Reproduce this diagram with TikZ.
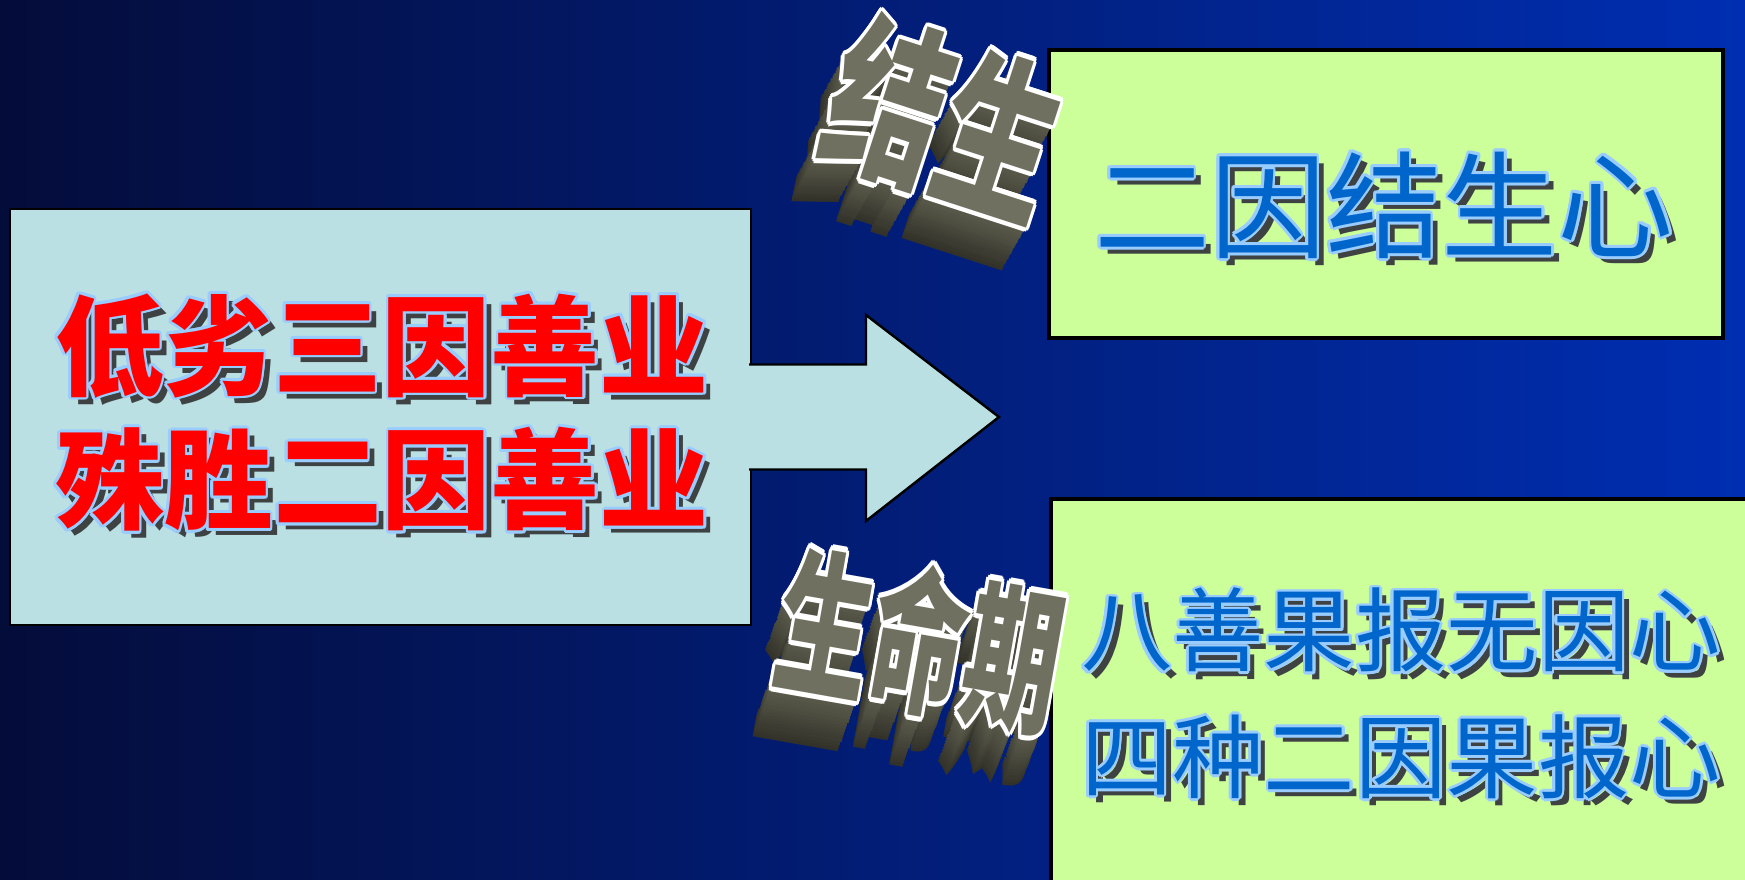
\documentclass[tikz,border=0pt]{standalone}
\usepackage{fontspec}
\newfontfamily\cjk{Noto Sans CJK SC}
\usetikzlibrary{calc}

\definecolor{bgleft}{RGB}{4,12,58}
\definecolor{bgmid}{RGB}{0,30,140}
\definecolor{bgright}{RGB}{0,46,178}
\definecolor{boxcyan}{RGB}{186,224,227}
\definecolor{boxgreen}{RGB}{204,255,153}
\definecolor{inkred}{RGB}{255,0,0}
\definecolor{inkblue}{RGB}{0,102,204}
\definecolor{rimblue}{RGB}{153,204,255}
\definecolor{shadowgray}{RGB}{62,66,66}
\definecolor{stoneface}{RGB}{112,112,96}
\definecolor{stoneside}{RGB}{96,96,80}

\tikzset{
  panel/.style={draw=black, line width=0.7pt, fill=#1, inner sep=0pt},
  redword/.style={font=\cjk\bfseries\fontsize{31}{38}\selectfont, text=inkred, align=center, inner sep=0pt},
  blueword/.style={font=\cjk\fontsize{33}{40}\selectfont, text=inkblue, align=center, inner sep=0pt},
  smallblue/.style={font=\cjk\fontsize{26}{36}\selectfont, text=inkblue, align=center, inner sep=0pt},
  stonefont/.style={font=\cjk\bfseries\fontsize{#1}{#1}\selectfont, inner sep=0pt},
}

% text with a pale rim and a dark drop shadow
\newcommand{\glowtext}[4]{% style, name, position, text
  \node[#1, text=shadowgray] at ($(#3)+(2pt,-2pt)$) {#4};
  \foreach \ang in {0,30,...,330}
    \node[#1, text=rimblue] at ($(#3)+(\ang:0.8pt)$) {#4};
  \node[#1] (#2) at (#3) {#4};
}

% grey extruded word art
\newcommand{\stoneword}[6]{% name, position, rotation, yscale, size, text
  \begin{scope}[shift={(#2)}, rotate=#3, yscale=#4, transform shape]
    \foreach \d [evaluate=\d as \tone using int(100-3*\d)] in {16,15,...,1}
      \node[stonefont=#5, text=stoneside!\tone!black] at (-0.006*\d,-0.02*\d) {#6};
    \foreach \ang in {0,30,...,330}
      \node[stonefont=#5, text=white] at (\ang:0.9pt) {#6};
    \node[stonefont=#5, text=stoneface] (#1) at (0,0) {#6};
  \end{scope}
}

\begin{document}
\begin{tikzpicture}
\useasboundingbox (0,0) rectangle (17.45,8.79);
\clip (0,0) rectangle (17.45,8.79);
\shade[left color=bgleft, middle color=bgmid, right color=bgright] (0,0) rectangle (17.45,8.79);

% boxes
\node[panel=boxcyan, minimum width=7.41cm, minimum height=4.16cm] (karma) at (3.805,4.62) {};
\node[panel=boxgreen, line width=1pt, minimum width=6.74cm, minimum height=2.88cm] (rebirth) at (13.86,6.85) {};
\node[panel=boxgreen, line width=1pt, minimum width=7.3cm, minimum height=4.2cm, anchor=north west] (life) at (10.49,3.82) {};

% arrow glued on the cyan box
\coordinate (tip) at (9.99,4.62);
\draw[fill=boxcyan, line width=0.7pt] ($(karma.east)+(-0.03,0.525)$) -- (8.66,5.145) -- (8.66,5.64) -- (tip)
  -- (8.66,3.58) -- (8.66,4.095) -- ($(karma.east)+(-0.03,-0.525)$);

% texts
\glowtext{redword}{karmatext}{3.82,4.665}{低劣三因善业\\殊胜二因善业}
\glowtext{blueword}{rebirthtext}{13.84,6.74}{二因结生心}
\glowtext{smallblue}{lifetext}{14.01,1.855}{八善果报无因心\\四种二因果报心}

% word art labels
\stoneword{jiesheng}{9.45,7.6}{-18}{1.5}{33}{结生}
\stoneword{shengmingqi}{9.2,2.39}{-10}{1.65}{27}{生命期}

\end{tikzpicture}
\end{document}
